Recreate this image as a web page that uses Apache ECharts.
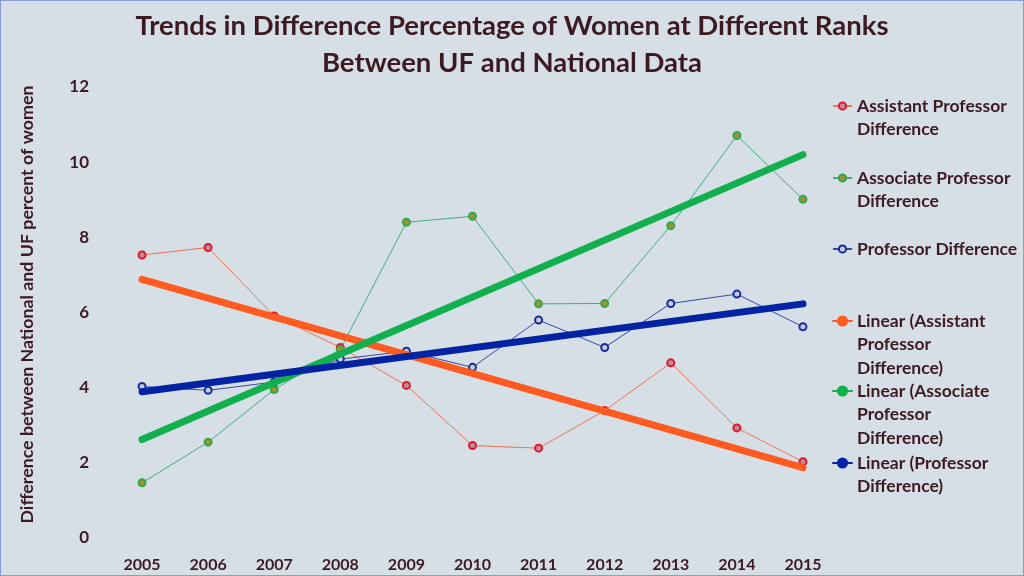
<!DOCTYPE html>
<html>
<head>
<meta charset="utf-8">
<script src="https://cdn.jsdelivr.net/npm/echarts@6/dist/echarts.min.js"></script>
<style>
html,body{margin:0;padding:0;background:#d6dee6;}
#chart{width:1024px;height:576px;box-sizing:border-box;border:1px solid #8e9ad4;}
</style>
</head>
<body>
<div id="chart"></div>
<script>
const years = ['2005','2006','2007','2008','2009','2010','2011','2012','2013','2014','2015'];
const assistantDiff = [7.53, 7.73, 5.91, 5.07, 4.06, 2.46, 2.39, 3.39, 4.66, 2.93, 2.03];
const associateDiff = [1.47, 2.55, 3.95, 5.02, 8.40, 8.56, 6.23, 6.24, 8.31, 10.71, 9.01];
const professorDiff = [4.03, 3.93, 4.15, 4.76, 4.97, 4.54, 5.80, 5.07, 6.24, 6.49, 5.62];
const assistantTrend = [6.88, null, null, null, null, null, null, null, null, null, 1.87];
const associateTrend = [2.62, null, null, null, null, null, null, null, null, null, 10.20];
const professorTrend = [3.89, null, null, null, null, null, null, null, null, null, 6.23];
const yTicks = [0, 2, 4, 6, 8, 10, 12];

const TXT = '#3d1a22';
const FONT = 'Lato';
const LH = 23.5;

const names = [
  'Assistant Professor Difference',
  'Associate Professor Difference',
  'Professor Difference',
  'Linear (Assistant Professor Difference)',
  'Linear (Associate Professor Difference)',
  'Linear (Professor Difference)'
];
const legendLines = [
  ['Assistant Professor', 'Difference'],
  ['Associate Professor', 'Difference'],
  ['Professor Difference'],
  ['Linear (Assistant', 'Professor', 'Difference)'],
  ['Linear (Associate', 'Professor', 'Difference)'],
  ['Linear (Professor', 'Difference)']
];
const legendIconY = [105, 177, 248, 320, 390, 462];

const legends = names.map((n, i) => {
  const lines = legendLines[i];
  const k = lines.length;
  const blanks = new Array(k - 1).fill(' ');
  return {
    data: [n],
    orient: 'vertical',
    left: 831,
    top: legendIconY[i] - (2 * k - 1) * LH / 2,
    padding: 0,
    itemWidth: 19,
    itemHeight: i < 3 ? 9 : 14,
    formatter: () => blanks.concat(lines).join('\n'),
    textStyle: {
      color: TXT, fontFamily: FONT, fontWeight: 'bold', fontSize: 17.5,
      lineHeight: LH
    }
  };
});

function dataSeries(name, data, lineColor, border, fill) {
  return {
    name, type: 'line', data,
    symbol: 'circle', symbolSize: 7,
    lineStyle: { color: lineColor, width: 1 },
    itemStyle: { color: fill, borderColor: border, borderWidth: 2 },
    z: 2
  };
}
function trendSeries(name, data, color) {
  return {
    name, type: 'line', data, connectNulls: true,
    symbol: 'none',
    lineStyle: { color, width: 7, cap: 'round' },
    itemStyle: { color },
    z: 3
  };
}

const chart = echarts.init(document.getElementById('chart'));
chart.setOption({
  backgroundColor: '#d6dee6',
  animation: false,
  title: {
    text: 'Trends in Difference Percentage of Women at Different Ranks\nBetween UF and National Data',
    left: 'center', top: 7, padding: 0,
    textStyle: { color: TXT, fontFamily: FONT, fontWeight: 'bold', fontSize: 27.5, lineHeight: 37, align: 'center' }
  },
  legend: legends,
  grid: { left: 108, right: 187, top: 86, bottom: 37, containLabel: false },
  xAxis: {
    type: 'category', data: years, boundaryGap: true,
    axisLine: { show: false }, axisTick: { show: false },
    axisLabel: { color: TXT, fontFamily: FONT, fontWeight: 'bold', fontSize: 16, margin: 19 }
  },
  yAxis: {
    type: 'value', min: yTicks[0], max: yTicks[yTicks.length - 1], interval: 2,
    axisLine: { show: false }, axisTick: { show: false }, splitLine: { show: false },
    axisLabel: { color: TXT, fontFamily: FONT, fontWeight: 'bold', fontSize: 17, margin: 20 },
    name: 'Difference between National and UF percent of women',
    nameLocation: 'middle', nameGap: 73, nameRotate: 90,
    nameTextStyle: { color: TXT, fontFamily: FONT, fontWeight: 'bold', fontSize: 17.8, padding: [0, 0, 0, 16] }
  },
  series: [
    dataSeries(names[0], assistantDiff, '#ee7352', '#e3172c', '#b88d9c'),
    dataSeries(names[1], associateDiff, '#3fae78', '#2eaa4c', '#a88f32'),
    dataSeries(names[2], professorDiff, '#3848a8', '#1a2a9e', '#c3cbde'),
    trendSeries(names[3], assistantTrend, '#ff5a1f'),
    trendSeries(names[4], associateTrend, '#12af4e'),
    trendSeries(names[5], professorTrend, '#0323a2')
  ]
});
</script>
</body>
</html>
